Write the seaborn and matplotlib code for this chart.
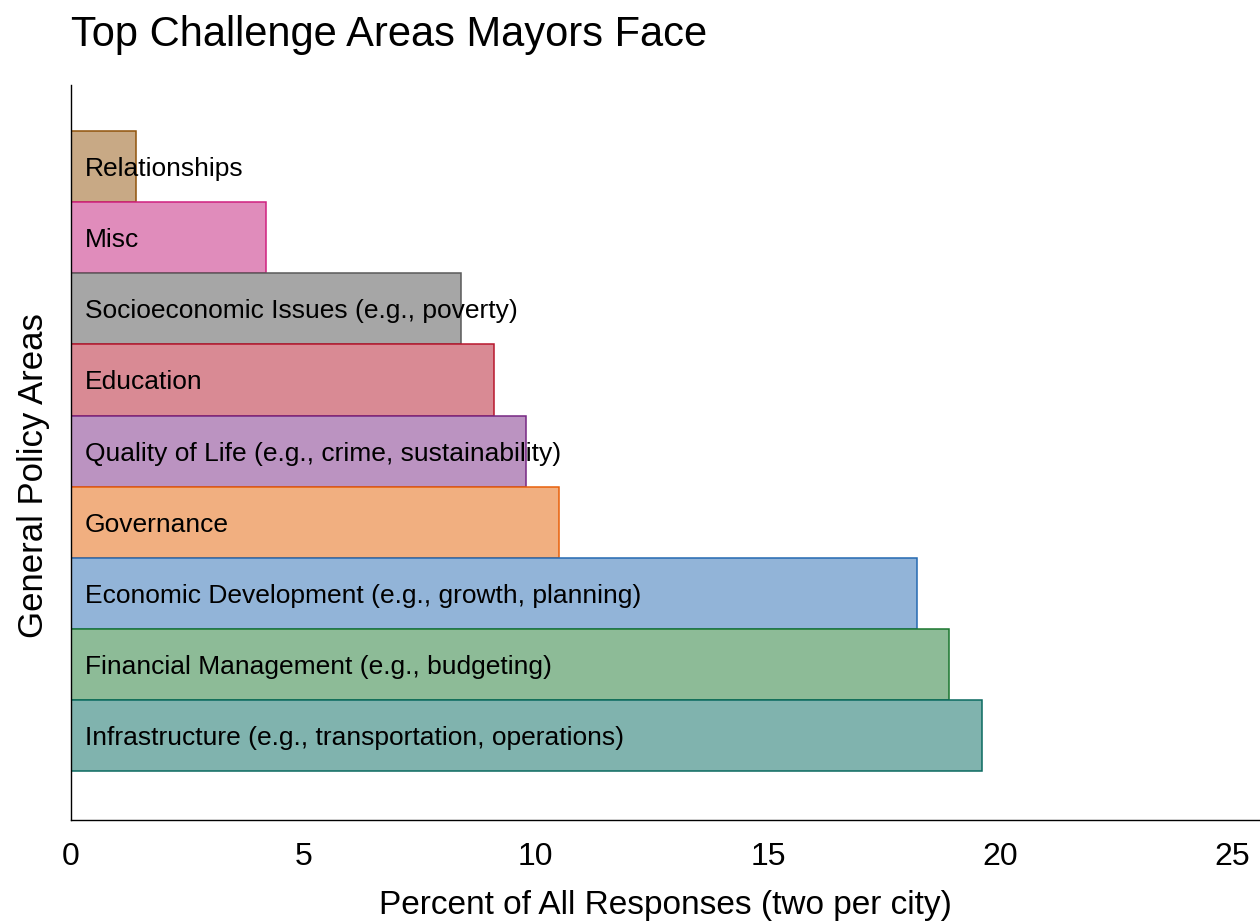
import pandas as pd
import matplotlib
matplotlib.use("Agg")
import matplotlib.pyplot as plt
import seaborn as sns

# Data (top to bottom)
categories = [
    "Relationships",
    "Misc",
    "Socioeconomic Issues (e.g., poverty)",
    "Education",
    "Quality of Life (e.g., crime, sustainability)",
    "Governance",
    "Economic Development (e.g., growth, planning)",
    "Financial Management (e.g., budgeting)",
    "Infrastructure (e.g., transportation, operations)",
]
percents = [1.4, 4.2, 8.4, 9.1, 9.8, 10.5, 18.2, 18.9, 19.6]

fill_colors = ["#C8A985", "#E08CBB", "#A6A6A6", "#D98A94", "#BB93C1",
               "#F1AF80", "#92B4D8", "#8DBB97", "#80B3AE"]
edge_colors = ["#91530B", "#D0207F", "#5A5A5A", "#B8172E", "#772783",
               "#E8600A", "#2569B1", "#1B772F", "#0B6A60"]

data = pd.DataFrame({"area": categories, "pct": percents})

sns.set_style("white")
plt.rcParams['font.family'] = ['Liberation Sans', 'DejaVu Sans']
plt.rcParams['text.color'] = 'black'
plt.rcParams['axes.labelcolor'] = 'black'
plt.rcParams['xtick.color'] = 'black'

fig = plt.figure(figsize=(12.6, 9.24), dpi=100)
ax = fig.add_axes([71 / 1260, 1 - 820 / 924, 1 - 71 / 1260, 735 / 924])

sns.barplot(
    data=data,
    x="pct",
    y="area",
    hue="area",
    order=categories,
    hue_order=categories,
    palette=fill_colors,
    saturation=1,
    width=1,
    legend=False,
    ax=ax,
)

# edge colors per bar
for cont, ec in zip(ax.containers, edge_colors):
    for bar in cont:
        bar.set_edgecolor(ec)
        bar.set_linewidth(1.1)

# labels inside bars
for i, name in enumerate(categories):
    ax.text(0.3, i, name, va="center_baseline", ha="left", fontsize=19, color="black")

ax.set_xlim(0, 25.59)
ax.set_ylim(9.19, -1.15)
ax.set_xticks([0, 5, 10, 15, 20, 25])
ax.set_yticks([])
ax.tick_params(axis="x", length=0, pad=16, labelsize=23)
for s in ["top", "right"]:
    ax.spines[s].set_visible(False)
for s in ["left", "bottom"]:
    ax.spines[s].set_color("black")
    ax.spines[s].set_linewidth(1.0)

ax.set_xlabel("Percent of All Responses (two per city)", fontsize=24, labelpad=13)
ax.set_ylabel("General Policy Areas", fontsize=25)
ax.yaxis.set_label_coords(-0.018, 0.469)

fig.text(71 / 1260, 1 - 46 / 924, "Top Challenge Areas Mayors Face",
         fontsize=30, ha="left", va="baseline")

fig.savefig("out.png", dpi=100)
